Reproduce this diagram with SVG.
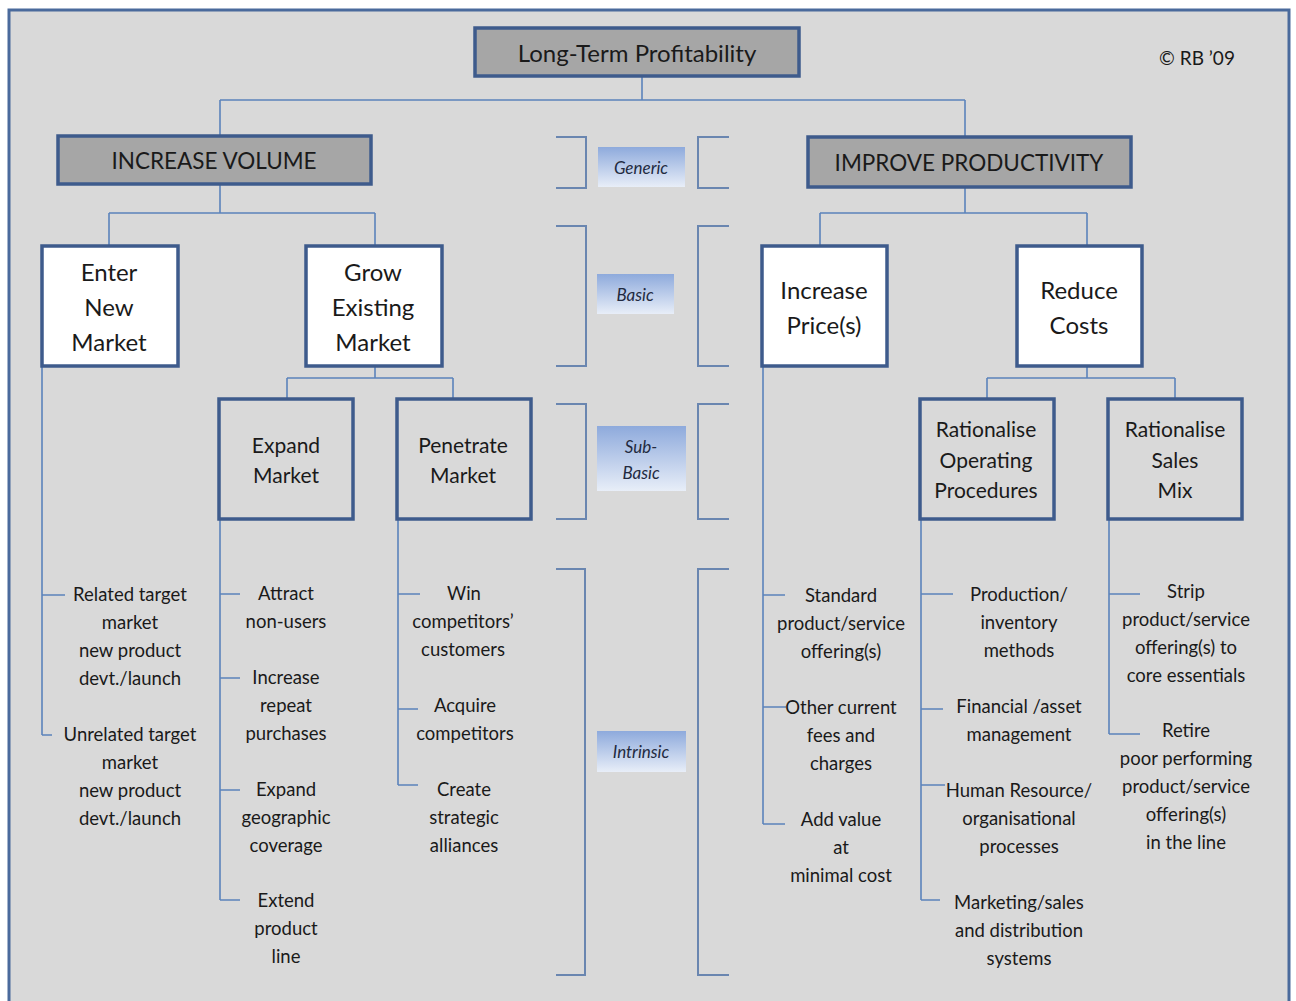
<svg xmlns="http://www.w3.org/2000/svg" width="1296" height="1001" viewBox="0 0 1296 1001">
<defs>
<linearGradient id="lbl" x1="0" y1="0" x2="0" y2="1">
<stop offset="0" stop-color="#8eaadc"/>
<stop offset="1" stop-color="#e8eef8"/>
</linearGradient>
<style>
text{font-family:Lato,"Open Sans","Liberation Sans",sans-serif;fill:#1a1a1a;text-anchor:middle;dominant-baseline:central}
.bg{fill:#d9d9d9;stroke:#4a6a9c;stroke-width:3}
.top{fill:#a6a6a6;stroke:#3e5b8c;stroke-width:3.5}
.wht{fill:#ffffff;stroke:#3e5b8c;stroke-width:3.5}
.gry{fill:#d9d9d9;stroke:#3e5b8c;stroke-width:3.5}
.c{fill:none;stroke:#5b83bb;stroke-width:1.6}
.br{fill:none;stroke:#6a86b0;stroke-width:2}
.lb{fill:url(#lbl)}
.lt{font-style:italic;font-size:17px;fill:#222a40}
.h1{font-size:24px}
.h2{font-size:22.5px}
.n1{font-size:24px}
.n2{font-size:21px}
.lf{font-size:18.5px}
</style>
</defs>
<rect class="bg" x="9" y="10" width="1280" height="1000"/>
<text x="1197" y="57" style="font-size:19px">© RB ’09</text>

<g id="connectors">
<path class="c" d="M642 77V100M220 100H965M220 100V136M965 100V137"/>
<path class="c" d="M220 184V213M109 213H375M109 213V246M375 213V246"/>
<path class="c" d="M375 366V378M287 378H453M287 378V399M453 378V399"/>
<path class="c" d="M965 187V213M820 213H1087M820 213V246M1087 213V246"/>
<path class="c" d="M1087 366V378M987 378H1175M987 378V399M1175 378V399"/>
<path class="c" d="M42 366V735M42 595H65M42 735H52"/>
<path class="c" d="M220 519V900M220 594H240M220 678H240M220 790H240M220 900H240"/>
<path class="c" d="M398 519V785M398 594H420M398 709H418M398 785H418"/>
<path class="c" d="M763 366V824M763 595H785M763 707H786M763 824H785"/>
<path class="c" d="M921 519V900M921 594H953M921 709H943M921 785H945M921 900H940"/>
<path class="c" d="M1109 519V734M1109 594H1140M1109 734H1140"/>
</g>

<g id="brackets">
<path class="br" d="M556 137H586V188H556M729 137H698V188H729"/>
<path class="br" d="M556 226H586V366H556M729 226H698V366H729"/>
<path class="br" d="M556 404H586V519H556M729 404H698V519H729"/>
<path class="br" d="M556 569H585V975H556M729 569H698V975H729"/>
</g>

<g id="lbl-generic"><rect class="lb" x="598" y="147" width="87" height="40"/><text class="lt" x="641" y="167">Generic</text></g>
<g id="lbl-basic"><rect class="lb" x="597" y="274" width="77" height="40"/><text class="lt" x="635" y="294">Basic</text></g>
<g id="lbl-subbasic"><rect class="lb" x="597" y="426" width="89" height="65"/><text class="lt" x="641" y="446">Sub-</text><text class="lt" x="641" y="472">Basic</text></g>
<g id="lbl-intrinsic"><rect class="lb" x="597" y="731" width="89" height="41"/><text class="lt" x="641" y="751">Intrinsic</text></g>

<g id="root"><rect class="top" x="475" y="28" width="324" height="48"/><text class="h1" x="637" y="52">Long-Term Profitability</text></g>
<g id="increase-volume"><rect class="top" x="58" y="136" width="313" height="48"/><text class="h2" x="214" y="160">INCREASE VOLUME</text></g>
<g id="improve-productivity"><rect class="top" x="808" y="137" width="323" height="50"/><text class="h2" x="969" y="162">IMPROVE PRODUCTIVITY</text></g>

<g id="enter-new-market"><rect class="wht" x="42" y="246" width="136" height="120"/><text class="n1" x="109" y="271">Enter</text><text class="n1" x="109" y="306">New</text><text class="n1" x="109" y="341">Market</text></g>
<g id="grow-existing-market"><rect class="wht" x="306" y="246" width="136" height="120"/><text class="n1" x="373" y="271">Grow</text><text class="n1" x="373" y="306">Existing</text><text class="n1" x="373" y="341">Market</text></g>
<g id="increase-prices"><rect class="wht" x="762" y="246" width="125" height="120"/><text class="n1" x="824" y="289">Increase</text><text class="n1" x="824" y="324">Price(s)</text></g>
<g id="reduce-costs"><rect class="wht" x="1017" y="246" width="125" height="120"/><text class="n1" x="1079" y="289">Reduce</text><text class="n1" x="1079" y="324">Costs</text></g>

<g id="expand-market"><rect class="gry" x="219" y="399" width="134" height="120"/><text class="n2" x="286" y="444">Expand</text><text class="n2" x="286" y="474">Market</text></g>
<g id="penetrate-market"><rect class="gry" x="397" y="399" width="134" height="120"/><text class="n2" x="463" y="444">Penetrate</text><text class="n2" x="463" y="474">Market</text></g>
<g id="rationalise-op"><rect class="gry" x="920" y="399" width="134" height="120"/><text class="n2" x="986" y="428">Rationalise</text><text class="n2" x="986" y="459">Operating</text><text class="n2" x="986" y="489">Procedures</text></g>
<g id="rationalise-sales"><rect class="gry" x="1108" y="399" width="134" height="120"/><text class="n2" x="1175" y="428">Rationalise</text><text class="n2" x="1175" y="459">Sales</text><text class="n2" x="1175" y="489">Mix</text></g>

<g id="leaf-related"><text class="lf" x="130" y="594">Related target</text><text class="lf" x="130" y="622">market</text><text class="lf" x="130" y="650">new product</text><text class="lf" x="130" y="678">devt./launch</text></g>
<g id="leaf-unrelated"><text class="lf" x="130" y="734">Unrelated target</text><text class="lf" x="130" y="762">market</text><text class="lf" x="130" y="790">new product</text><text class="lf" x="130" y="818">devt./launch</text></g>
<g id="leaf-attract"><text class="lf" x="286" y="593">Attract</text><text class="lf" x="286" y="621">non-users</text></g>
<g id="leaf-repeat"><text class="lf" x="286" y="677">Increase</text><text class="lf" x="286" y="705">repeat</text><text class="lf" x="286" y="733">purchases</text></g>
<g id="leaf-geo"><text class="lf" x="286" y="789">Expand</text><text class="lf" x="286" y="817">geographic</text><text class="lf" x="286" y="845">coverage</text></g>
<g id="leaf-extend"><text class="lf" x="286" y="900">Extend</text><text class="lf" x="286" y="928">product</text><text class="lf" x="286" y="956">line</text></g>
<g id="leaf-win"><text class="lf" x="464" y="593">Win</text><text class="lf" x="463" y="621">competitors’</text><text class="lf" x="463" y="649">customers</text></g>
<g id="leaf-acquire"><text class="lf" x="465" y="705">Acquire</text><text class="lf" x="465" y="733">competitors</text></g>
<g id="leaf-alliances"><text class="lf" x="464" y="789">Create</text><text class="lf" x="464" y="817">strategic</text><text class="lf" x="464" y="845">alliances</text></g>

<g id="leaf-standard"><text class="lf" x="841" y="595">Standard</text><text class="lf" x="841" y="623">product/service</text><text class="lf" x="841" y="651">offering(s)</text></g>
<g id="leaf-fees"><text class="lf" x="841" y="707">Other current</text><text class="lf" x="841" y="735">fees and</text><text class="lf" x="841" y="763">charges</text></g>
<g id="leaf-addvalue"><text class="lf" x="841" y="819">Add value</text><text class="lf" x="841" y="847">at</text><text class="lf" x="841" y="875">minimal cost</text></g>
<g id="leaf-production"><text class="lf" x="1019" y="594">Production/</text><text class="lf" x="1019" y="622">inventory</text><text class="lf" x="1019" y="650">methods</text></g>
<g id="leaf-financial"><text class="lf" x="1019" y="706">Financial /asset</text><text class="lf" x="1019" y="734">management</text></g>
<g id="leaf-hr"><text class="lf" x="1019" y="790">Human Resource/</text><text class="lf" x="1019" y="818">organisational</text><text class="lf" x="1019" y="846">processes</text></g>
<g id="leaf-marketing"><text class="lf" x="1019" y="902">Marketing/sales</text><text class="lf" x="1019" y="930">and distribution</text><text class="lf" x="1019" y="958">systems</text></g>
<g id="leaf-strip"><text class="lf" x="1186" y="591">Strip</text><text class="lf" x="1186" y="619">product/service</text><text class="lf" x="1186" y="647">offering(s) to</text><text class="lf" x="1186" y="675">core essentials</text></g>
<g id="leaf-retire"><text class="lf" x="1186" y="730">Retire</text><text class="lf" x="1186" y="758">poor performing</text><text class="lf" x="1186" y="786">product/service</text><text class="lf" x="1186" y="814">offering(s)</text><text class="lf" x="1186" y="842">in the line</text></g>
</svg>
